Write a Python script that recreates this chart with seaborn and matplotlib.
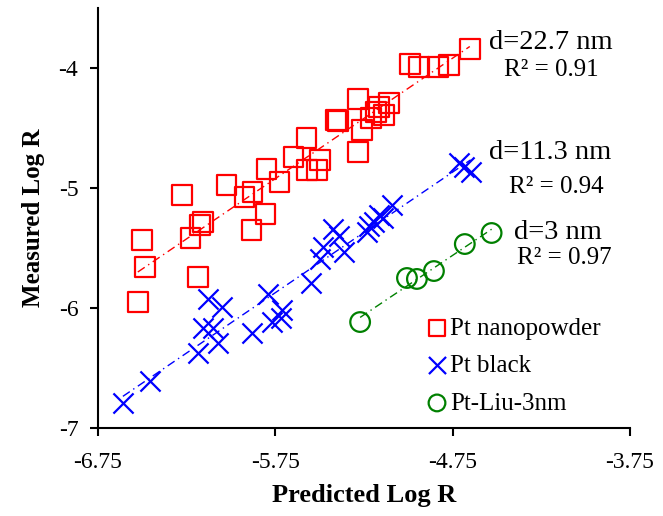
import numpy as np
import pandas as pd
import matplotlib
matplotlib.use("Agg")
import matplotlib.pyplot as plt
import seaborn as sns

# ---- data ----
nano_pred = [-6.524, -6.501, -6.484, -6.276, -6.226, -6.186, -6.175, -6.158, -6.024, -5.922,
             -5.878, -5.883, -5.804, -5.799, -5.726, -5.647, -5.574, -5.569, -5.513, -5.496,
             -5.406, -5.394, -5.282, -5.282, -5.260, -5.209, -5.181, -5.164, -5.136, -5.108,
             -4.990, -4.939, -4.833, -4.771, -4.653]
nano_meas = [-5.950, -5.433, -5.658, -5.058, -5.417, -5.742, -5.308, -5.283, -4.975, -5.075,
             -5.033, -5.350, -5.217, -4.842, -4.950, -4.742, -4.583, -4.850, -4.850, -4.767,
             -4.433, -4.442, -4.258, -4.700, -4.517, -4.417, -4.367, -4.325, -4.392, -4.292,
             -3.967, -3.992, -3.992, -3.975, -3.842]

black_pred = [-6.608, -6.456, -6.186, -6.158, -6.130, -6.102, -6.074, -6.052, -5.883, -5.793,
              -5.765, -5.709, -5.715, -5.546, -5.495, -5.479, -5.422, -5.389, -5.361, -5.232,
              -5.221, -5.193, -5.164, -5.142, -5.091, -4.715, -4.687, -4.648]
black_meas = [-6.792, -6.608, -6.375, -6.167, -5.925, -6.167, -6.292, -5.992, -6.208, -5.883,
              -6.117, -6.017, -6.083, -5.792, -5.592, -5.492, -5.342, -5.400, -5.533, -5.367,
              -5.317, -5.283, -5.225, -5.250, -5.142, -4.792, -4.825, -4.867]

liu_pred = [-5.271, -5.007, -4.951, -4.855, -4.681, -4.530]
liu_meas = [-6.117, -5.750, -5.758, -5.692, -5.467, -5.375]

series_names = ["Pt nanopowder", "Pt black", "Pt-Liu-3nm"]
size_labels = ["d=22.7 nm", "d=11.3 nm", "d=3 nm"]
r2_labels = ["R² = 0.91", "R² = 0.94", "R² = 0.97"]
x_ticks = [-6.75, -5.75, -4.75, -3.75]
y_ticks = [-7, -6, -5, -4]

# ---- style ----
sns.set_theme(style="white")
plt.rcParams["font.family"] = ["Liberation Serif", "DejaVu Serif"]
plt.rcParams["axes.unicode_minus"] = False
plt.rcParams["text.color"] = "black"
plt.rcParams["axes.labelcolor"] = "black"
plt.rcParams["xtick.color"] = "black"
plt.rcParams["ytick.color"] = "black"

fig = plt.figure(figsize=(6.63, 5.16), dpi=100)
ax = fig.add_axes([97.7 / 663, 88 / 516, (630 - 97.7) / 663, (428 - 8) / 516])

colors = ["#FF0000", "#0000FF", "#008000"]
data = [(nano_pred, nano_meas), (black_pred, black_meas), (liu_pred, liu_meas)]

for (xs, ys), c in zip(data, colors):
    sns.regplot(x=np.array(xs), y=np.array(ys), ax=ax, scatter=False, ci=None,
                color=c, line_kws={"ls": (0, (6, 3, 1, 3)), "lw": 1.0})

sns.scatterplot(x=nano_pred, y=nano_meas, ax=ax, marker="s", s=200,
                facecolor="none", edgecolor=colors[0], linewidth=1.6, label=series_names[0])
sns.scatterplot(x=black_pred, y=black_meas, ax=ax, marker="x", s=210,
                color=colors[1], linewidth=1.6, label=series_names[1])
sns.scatterplot(x=liu_pred, y=liu_meas, ax=ax, marker="o", s=200,
                facecolor="none", edgecolor=colors[2], linewidth=1.6, label=series_names[2])

ax.set_xlim(-6.75, -3.75)
ax.set_ylim(-7, -3.5)
ax.set_xticks(x_ticks)
ax.set_xticklabels([f"{v:.2f}" for v in x_ticks])
ax.set_yticks(y_ticks)
ax.set_yticklabels([str(v) for v in y_ticks])

for s in ["top", "right"]:
    ax.spines[s].set_visible(False)
for s in ["left", "bottom"]:
    ax.spines[s].set_color("black")
    ax.spines[s].set_linewidth(1.5)
ax.tick_params(axis="both", direction="out", length=6, width=1.5, colors="black",
               labelsize=17, left=True, bottom=True)
ax.tick_params(axis="x", pad=11)
ax.tick_params(axis="y", pad=8)

ax.set_xlabel("Predicted Log R", fontsize=19, fontweight="bold", labelpad=8, color="black")
ax.set_ylabel("Measured Log R", fontsize=18, fontweight="bold", labelpad=10, color="black")

# annotations
ann_x = [-4.546, -4.546, -4.406]
ann_y = [-3.79, -4.708, -5.367]
r2_x = [-4.462, -4.434, -4.389]
r2_y = [-4.017, -4.992, -5.583]
for i in range(3):
    ax.text(ann_x[i], ann_y[i], size_labels[i], fontsize=20.5, va="center", ha="left", color="black")
    ax.text(r2_x[i], r2_y[i], r2_labels[i], fontsize=18, va="center", ha="left", color="black")

leg = ax.legend(loc="upper left", bbox_to_anchor=((429.5 - 97.7) / 532.3, (428 - 317) / 420),
                frameon=False, fontsize=18, handletextpad=0.22, handlelength=0.6,
                labelspacing=0.6, borderpad=0, borderaxespad=0, markerscale=0.85,
                labelcolor="black")

fig.savefig("out.png", dpi=100)
